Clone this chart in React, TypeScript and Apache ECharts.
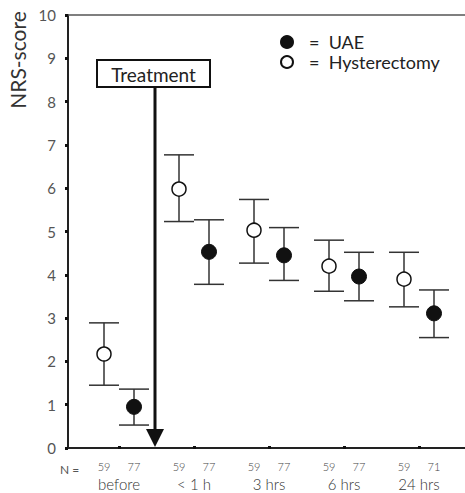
import React, { useEffect, useRef } from "react";
import * as echarts from "echarts";

const categories = ["before", "< 1 h", "3 hrs", "6 hrs", "24 hrs"];
const nHyst = [59, 59, 59, 59, 59];
const nUAE = [77, 77, 77, 77, 71];

const hystMean = [2.17, 5.98, 5.03, 4.2, 3.9];
const hystLow = [1.45, 5.23, 4.27, 3.62, 3.26];
const hystHigh = [2.89, 6.77, 5.74, 4.8, 4.52];

const uaeMean = [0.95, 4.53, 4.45, 3.96, 3.11];
const uaeLow = [0.53, 3.78, 3.87, 3.4, 2.55];
const uaeHigh = [1.36, 5.27, 5.09, 4.52, 3.65];

const yTicks = [0, 1, 2, 3, 4, 5, 6, 7, 8, 9, 10];

const FONT = "Lato, 'Open Sans', sans-serif";
const OFFSET = 0.2; // category-units offset between the two groups

export default function App() {
  const ref = useRef<HTMLDivElement>(null);

  useEffect(() => {
    document.body.style.margin = "0";
    if (!ref.current) return;
    const chart = echarts.init(ref.current, null, { renderer: "svg" });

    const xMin = -0.68;
    const xMax = 4.6133;

    const barData = (mean: number[], low: number[], high: number[], off: number) =>
      mean.map((m, i) => [i + off, m, low[i], high[i]]);

    const errRender = (params: any, api: any) => {
      const x = api.value(0);
      const lo = api.coord([x, api.value(2)]);
      const hi = api.coord([x, api.value(3)]);
      const hw = 15;
      const st = { stroke: "#333", lineWidth: 1.5 };
      return {
        type: "group",
        children: [
          { type: "line", shape: { x1: lo[0], y1: lo[1], x2: hi[0], y2: hi[1] }, style: st },
          { type: "line", shape: { x1: lo[0] - hw, y1: lo[1], x2: lo[0] + hw, y2: lo[1] }, style: st },
          { type: "line", shape: { x1: hi[0] - hw, y1: hi[1], x2: hi[0] + hw, y2: hi[1] }, style: st },
        ],
      };
    };

    chart.setOption({
      animation: false,
      textStyle: { fontFamily: FONT },
      grid: [
        { left: 68, right: 0, top: 15, bottom: 45, containLabel: false },
        { left: 81.5, right: 8.5, top: 15, bottom: 45, containLabel: false },
      ],
      legend: {
        orient: "vertical",
        left: 280,
        top: 32,
        padding: 0,
        itemGap: 0,
        itemWidth: 12,
        itemHeight: 12,
        data: ["UAE", "Hysterectomy"],
        formatter: (name: string) => `{e|=}  ${name}`,
        textStyle: {
          fontFamily: FONT,
          fontSize: 18,
          fontWeight: "normal",
          color: "#222",
          lineHeight: 20,
          rich: { e: { padding: [0, 0, 0, 11], fontSize: 18, lineHeight: 20, color: "#222" } },
        },
      },
      xAxis: [
        {
          type: "value",
          gridIndex: 0,
          min: xMin,
          max: xMax,
          position: "bottom",
          splitLine: { show: false },
          axisLine: { show: true, onZero: false, lineStyle: { color: "#222", width: 2 } },
          axisTick: { show: false },
          axisLabel: { show: false },
        },
        {
          type: "value",
          gridIndex: 0,
          min: xMin,
          max: xMax,
          position: "top",
          splitLine: { show: false },
          axisLine: { show: true, onZero: false, lineStyle: { color: "#555", width: 1.5 } },
          axisTick: { show: false },
          axisLabel: { show: false },
        },
        {
          type: "category",
          gridIndex: 1,
          data: categories,
          boundaryGap: true,
          position: "bottom",
          splitLine: { show: false },
          axisLine: { show: false, onZero: false },
          axisTick: {
            show: true,
            alignWithLabel: true,
            length: 3,
            lineStyle: { color: "#111", width: 3 },
          },
          axisLabel: {
            show: true,
            interval: 0,
            margin: 12,
            fontSize: 15,
            fontWeight: 300,
            lineHeight: 19,
            color: "#333",
            fontFamily: FONT,
            formatter: (v: string, i: number) =>
              `{a|${nHyst[i]}}{b|${nUAE[i]}}\n${v}`,
            rich: {
              a: { width: 30, align: "center", fontSize: 11, lineHeight: 16, color: "#444", fontFamily: FONT },
              b: { width: 30, align: "center", fontSize: 11, lineHeight: 16, color: "#444", fontFamily: FONT },
            },
          },
        },
      ],
      yAxis: [
        {
          type: "value",
          gridIndex: 0,
          min: 0,
          max: 10,
          interval: 1,
          splitLine: { show: false },
          axisLine: { show: true, onZero: false, lineStyle: { color: "#222", width: 2 } },
          axisTick: { show: true, length: 3, lineStyle: { color: "#111", width: 3 } },
          axisLabel: {
            fontSize: 15,
            color: "#555",
            margin: 12,
            fontFamily: FONT,
            formatter: (v: number) => (yTicks.includes(v) ? String(v) : ""),
          },
        },
        {
          type: "value",
          gridIndex: 1,
          min: 0,
          max: 10,
          show: false,
        },
      ],
      graphic: [
        {
          type: "text",
          x: 17,
          y: 60,
          rotation: Math.PI / 2,
          style: {
            text: "NRS-score",
            fontSize: 21,
            fontFamily: FONT,
            fill: "#333",
            align: "center",
            verticalAlign: "middle",
          },
        },
        {
          type: "text",
          x: 60,
          y: 469,
          style: {
            text: "N =",
            fontSize: 12,
            fontFamily: FONT,
            fill: "#555",
            align: "left",
            verticalAlign: "middle",
          },
        },
        {
          type: "rect",
          shape: { x: 97, y: 60, width: 113, height: 27 },
          style: { fill: "#fff", stroke: "#111", lineWidth: 2 },
          z: 10,
        },
        {
          type: "text",
          x: 153.5,
          y: 74,
          z: 11,
          style: {
            text: "Treatment",
            fontSize: 19,
            fontFamily: FONT,
            fill: "#222",
            align: "center",
            verticalAlign: "middle",
          },
        },
        {
          type: "line",
          shape: { x1: 155, y1: 87, x2: 155, y2: 432 },
          style: { stroke: "#111", lineWidth: 3 },
          z: 10,
        },
        {
          type: "polygon",
          shape: { points: [[146, 429], [164, 429], [155, 447]] },
          style: { fill: "#111" },
          z: 10,
        },
      ],
      series: [
        {
          type: "custom",
          name: "hystErr",
          xAxisIndex: 0,
          yAxisIndex: 0,
          renderItem: errRender,
          data: barData(hystMean, hystLow, hystHigh, -OFFSET),
          encode: { x: 0, y: 1 },
          z: 2,
        },
        {
          type: "custom",
          name: "uaeErr",
          xAxisIndex: 0,
          yAxisIndex: 0,
          renderItem: errRender,
          data: barData(uaeMean, uaeLow, uaeHigh, OFFSET),
          encode: { x: 0, y: 1 },
          z: 2,
        },
        {
          type: "scatter",
          name: "UAE",
          xAxisIndex: 0,
          yAxisIndex: 0,
          symbol: "circle",
          symbolSize: 15,
          data: uaeMean.map((m, i) => [i + OFFSET, m]),
          itemStyle: { color: "#111", borderColor: "#111", borderWidth: 1, opacity: 1 },
          z: 5,
        },
        {
          type: "scatter",
          name: "Hysterectomy",
          xAxisIndex: 0,
          yAxisIndex: 0,
          symbol: "circle",
          symbolSize: 14,
          data: hystMean.map((m, i) => [i - OFFSET, m]),
          itemStyle: { color: "#fff", borderColor: "#111", borderWidth: 1.5, opacity: 1 },
          z: 5,
        },
      ],
    });

    return () => chart.dispose();
  }, []);

  return <div ref={ref} style={{ width: 465, height: 493 }} />;
}
